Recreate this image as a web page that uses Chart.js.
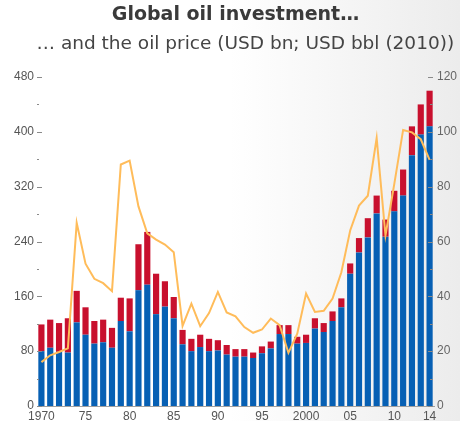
<!DOCTYPE html>
<html>
<head>
<meta charset="utf-8">
<script src="https://cdn.jsdelivr.net/npm/chart.js@4.4.1/dist/chart.umd.min.js"></script>
<style>
  html, body { margin: 0; padding: 0; }
  body {
    width: 460px; height: 421px; overflow: hidden;
    background: linear-gradient(to right, #ffffff 0%, #ffffff 50%, #ececec 100%);
  }
  canvas { display: block; }
</style>
</head>
<body>
<canvas id="chart-oil" width="460" height="421"></canvas>
<script>
// años
const years = [1970, 1971, 1972, 1973, 1974, 1975, 1976, 1977, 1978, 1979,
  1980, 1981, 1982, 1983, 1984, 1985, 1986, 1987, 1988, 1989,
  1990, 1991, 1992, 1993, 1994, 1995, 1996, 1997, 1998, 1999,
  2000, 2001, 2002, 2003, 2004, 2005, 2006, 2007, 2008, 2009,
  2010, 2011, 2012, 2013, 2014];

// inversion (USD bn) - parte azul y parte roja
const investBlue = [80, 85, 79, 78, 122, 104, 91, 93, 85, 124,
  109, 169, 177, 134, 145, 128, 90, 80, 86, 80,
  81, 75, 72, 72, 70, 77, 84, 105, 105, 91,
  92, 113, 108, 124, 144, 193, 224, 246, 281, 247,
  284, 307, 366, 396, 408];
const investRed = [39, 41, 42, 50, 46, 40, 33, 33, 29, 34,
  48, 67, 77, 59, 37, 31, 21, 18, 18, 18,
  15, 14, 11, 11, 8, 10, 10, 13, 13, 10,
  12, 15, 13, 14, 13, 15, 21, 28, 26, 25,
  30, 38, 42, 44, 52];

// precio del petroleo (USD bbl 2010)
const oilPrice = [16, 18.5, 19.7, 21, 66.8, 51.9, 46.4, 44.8, 41.9, 88.1,
  89.5, 72.8, 63, 60.7, 58.9, 56.1, 29.2, 37.3, 29.1, 33.9,
  41.6, 34.1, 32.7, 28.8, 26.7, 27.9, 31.9, 29.5, 19.4, 26.4,
  41, 34.3, 34.7, 39.2, 48.8, 64, 73.1, 76.7, 97.7, 62.2,
  81, 100.7, 99.8, 97.3, 89.8];

// etiquetas del eje x
const xTickYears = [1970, 1975, 1980, 1985, 1990, 1995, 2000, 2005, 2010, 2014];
const xTickText = ["1970", "75", "80", "85", "90", "95", "2000", "05", "10", "14"];

const tickFont = { family: "'Liberation Sans', Arial, sans-serif", size: 12 };

// marcas cortas de los ejes, dibujadas hacia dentro
const innerTicks = {
  id: "innerTicks",
  afterDatasetsDraw(chart) {
    const c = chart.ctx;
    const area = chart.chartArea;
    c.save();
    c.strokeStyle = "#8a8a8a";
    c.lineWidth = 1;
    chart.scales.y.ticks.forEach(t => {
      const py = Math.round(chart.scales.y.getPixelForValue(t.value)) + 0.5;
      const len = t.value % 80 === 0 ? 5 : 2;
      c.beginPath();
      c.moveTo(area.left, py);
      c.lineTo(area.left + len, py);
      c.stroke();
    });
    chart.scales.y2.ticks.forEach(t => {
      const py = Math.round(chart.scales.y2.getPixelForValue(t.value)) + 0.5;
      const len = t.value % 20 === 0 ? 5 : 3;
      c.beginPath();
      c.moveTo(area.right - 1, py);
      c.lineTo(area.right - 1 - len, py);
      c.stroke();
    });
    c.restore();
  }
};

const ctx = document.getElementById("chart-oil").getContext("2d");
let myChart = new Chart(ctx, {
  type: "bar",
  data: {
    labels: years,
    datasets: [
      {
        type: "line",
        label: "Oil price",
        data: oilPrice,
        yAxisID: "y2",
        borderColor: "rgba(255, 188, 90, 1)",
        borderWidth: 2,
        pointRadius: 0,
        tension: 0,
        order: 0,
      },
      {
        label: "Investment",
        data: investBlue,
        backgroundColor: "#0760b4",
        barPercentage: 0.7,
        categoryPercentage: 1,
        order: 1,
      },
      {
        label: "Investment 2",
        data: investRed,
        backgroundColor: "#c8102e",
        barPercentage: 0.7,
        categoryPercentage: 1,
        order: 1,
      }
    ],
  },
  options: {
    responsive: false,
    animation: false,
    layout: { padding: 0 },
    plugins: {
      legend: { display: false },
      tooltip: { enabled: false },
      title: {
        display: true,
        fullSize: false,
        text: "Global oil investment…",
        color: "#3a3a3a",
        font: { family: "'DejaVu Sans', sans-serif", size: 19, weight: "bold" },
        padding: { top: 4, bottom: 4 },
      },
      subtitle: {
        display: true,
        text: "… and the oil price (USD bn; USD bbl (2010)) ",
        color: "#444",
        align: "end",
        font: { family: "'DejaVu Sans', sans-serif", size: 18.5 },
        padding: { top: 2, bottom: 22 },
      },
    },
    scales: {
      x: {
        stacked: true,
        grid: { display: false, drawTicks: false },
        border: { display: true, color: "#a0a0a0" },
        ticks: {
          autoSkip: false,
          maxRotation: 0,
          padding: 3,
          color: "#555",
          font: { family: tickFont.family, size: 12 },
          callback: function (value) {
            const yr = this.getLabelForValue(value);
            const i = xTickYears.indexOf(Number(yr));
            return i >= 0 ? xTickText[i] : "";
          },
        },
        afterFit: scale => { scale.height = 15; },
      },
      y: {
        stacked: true,
        position: "left",
        min: 0,
        max: 480,
        grid: { display: false, drawTicks: false },
        border: { display: false },
        ticks: {
          stepSize: 40,
          padding: 3,
          color: "#555",
          font: tickFont,
          callback: v => (v % 80 === 0 ? String(v) : ""),
        },
        afterFit: scale => { scale.width = 37; },
      },
      y2: {
        position: "right",
        min: 0,
        max: 120,
        grid: { display: false, drawTicks: false },
        border: { display: false },
        ticks: {
          stepSize: 10,
          padding: 3,
          color: "#666",
          font: tickFont,
          callback: v => (v % 20 === 0 ? String(v) : ""),
        },
        afterFit: scale => { scale.width = 26; },
      },
    },
  },
  plugins: [innerTicks],
});
</script>
</body>
</html>
